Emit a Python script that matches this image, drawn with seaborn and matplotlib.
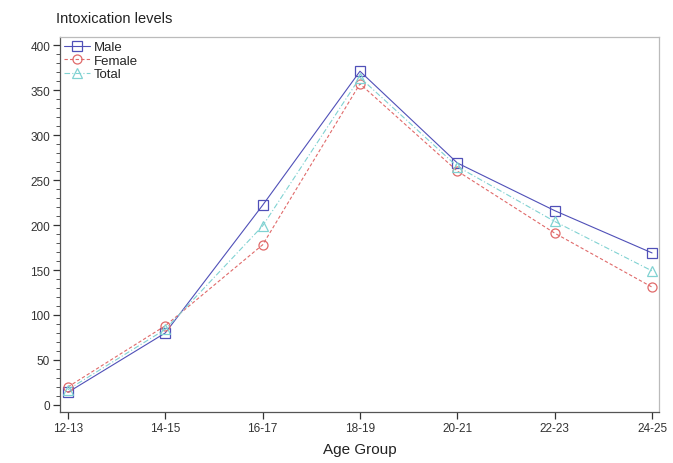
import matplotlib
matplotlib.use("Agg")
import matplotlib.pyplot as plt
from matplotlib.ticker import MultipleLocator
import seaborn as sns
import pandas as pd

age_groups = ["12-13", "14-15", "16-17", "18-19", "20-21", "22-23", "24-25"]
male = [14, 80, 222, 371, 269, 216, 169]
female = [20, 88, 178, 357, 260, 191, 131]
total = [17, 84, 199, 364, 265, 204, 149]

df = pd.DataFrame({
    "Age Group": age_groups * 3,
    "value": male + female + total,
    "Sex": ["Male"] * 7 + ["Female"] * 7 + ["Total"] * 7,
})

sns.set_theme(style="ticks")
plt.rcParams['font.family'] = ['Liberation Sans', 'DejaVu Sans']

fig = plt.figure(figsize=(6.73, 4.64), dpi=100)
ax = fig.add_axes([0.089, 0.110, 0.890, 0.808])

styles = {
    "Male": dict(color="#5050b8", marker="s", ls="-", lw=0.8),
    "Female": dict(color="#e06a6a", marker="o", ls=(0, (3, 2)), lw=0.8),
    "Total": dict(color="#80d2d2", marker="^", ls=(0, (5, 2, 1, 2)), lw=0.8),
}
for name in ["Male", "Female", "Total"]:
    st = styles[name]
    sub = df[df["Sex"] == name]
    sns.lineplot(data=sub, x="Age Group", y="value", ax=ax, color=st["color"],
                 marker=st["marker"], linestyle=st["ls"], linewidth=st["lw"],
                 markersize=6.5, markerfacecolor="none", markeredgecolor=st["color"],
                 markeredgewidth=0.9, label=name, sort=False)

ax.set_xlim(-0.082, 6.07)
ax.set_ylim(-7.8, 409)
ax.yaxis.set_major_locator(MultipleLocator(50))
ax.yaxis.set_minor_locator(MultipleLocator(10))
ax.tick_params(axis="both", which="major", direction="out", length=5, width=0.9,
               colors="#333333", labelsize=8.5, pad=2)
ax.tick_params(axis="y", which="minor", direction="out", length=3, width=0.7, colors="#555555")
for s in ["left", "bottom"]:
    ax.spines[s].set_color("#555555")
    ax.spines[s].set_linewidth(0.9)
for s in ["top", "right"]:
    ax.spines[s].set_color("#bbbbbb")
    ax.spines[s].set_linewidth(0.9)

ax.set_xlabel("Age Group", fontsize=11, color="#222222", labelpad=6)
ax.set_ylabel("")
fig.text(0.083, 0.96, "Intoxication levels", fontsize=10.5, color="#222222",
         ha="left", va="center")

leg = ax.legend(loc="upper left", frameon=False, fontsize=9.5, handlelength=2.0,
                borderaxespad=0.1, labelspacing=0.1, handletextpad=0.3,
                borderpad=0.2)

fig.savefig("out.png", dpi=100, facecolor="white")
